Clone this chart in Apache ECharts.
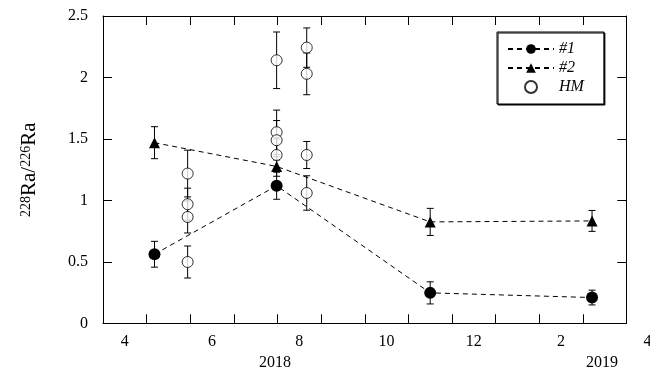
<!DOCTYPE html>
<html>
<head>
<meta charset="utf-8">
<script src="https://cdn.jsdelivr.net/npm/echarts@6/dist/echarts.min.js"></script>
<style>
  html, body { margin: 0; padding: 0; background: #fff; }
  #chart { width: 650px; height: 374px; }
</style>
</head>
<body>
<div id="chart"></div>
<script>
// x = month number counted from Jan 2018 (13 = Jan 2019)
var s1X = [4.68, 7.48, 11.0, 14.71]
var s1Y = [0.563, 1.12, 0.249, 0.211]
var s1Err = [0.105, 0.11, 0.09, 0.06]

var s2X = [4.68, 7.48, 11.0, 14.71]
var s2Y = [1.47, 1.277, 0.826, 0.834]
var s2Err = [0.13, 0.08, 0.11, 0.085]

var hmX = [5.44, 5.44, 5.44, 5.44, 7.48, 7.48, 7.48, 7.48, 8.17, 8.17, 8.17, 8.17]
var hmY = [1.219, 0.97, 0.866, 0.5, 2.14, 1.555, 1.49, 1.37, 2.243, 2.03, 1.37, 1.061]
var hmErr = [0.19, 0.13, 0.13, 0.13, 0.23, 0.18, 0.16, 0.13, 0.16, 0.17, 0.11, 0.14]

var monthTicks = [4.5, 5.5, 6.5, 7.5, 8.5, 9.5, 10.5, 11.5, 12.5, 13.5, 14.5]
var monthLabels = [4, 6, 8, 10, 12, 14]
var edgeLabel = '4' // April 2019 label, sits past the right edge of the frame
var yearPos = [7.44, 14.94]
var yearLabels = ['2018', '2019']

var font = 'Liberation Serif'

function pairs(xs, ys) {
    return xs.map(function (x, i) { return [x, ys[i]] })
}
function errData(xs, ys, es) {
    return xs.map(function (x, i) { return [x, ys[i] - es[i], ys[i] + es[i]] })
}

function renderErr(params, api) {
    var x = api.value(0)
    var top = api.coord([x, api.value(2)])
    var bot = api.coord([x, api.value(1)])
    var hw = 3.5
    var st = { stroke: '#000', lineWidth: 1 }
    return {
        type: 'group',
        children: [
            { type: 'line', shape: { x1: top[0], y1: top[1], x2: bot[0], y2: bot[1] }, style: st },
            { type: 'line', shape: { x1: top[0] - hw, y1: top[1], x2: top[0] + hw, y2: top[1] }, style: st },
            { type: 'line', shape: { x1: bot[0] - hw, y1: bot[1], x2: bot[0] + hw, y2: bot[1] }, style: st }
        ]
    }
}

function errSeries(xs, ys, es) {
    return {
        type: 'custom',
        renderItem: renderErr,
        z: 1,
        data: errData(xs, ys, es)
    }
}

function frameLine() {
    return { show: true, onZero: false, lineStyle: { color: '#000' } }
}
function tickIn(values) {
    var t = { show: true, inside: true, length: 9, lineStyle: { color: '#000', width: 1 } }
    if (values) t.customValues = values
    return t
}
function labelStyle(extra) {
    var s = { color: '#000', fontFamily: font, fontSize: 16 }
    for (var k in extra) s[k] = extra[k]
    return s
}
// helper axis pulled 9px inside the frame, ticks pointing out so they end on the frame line
function tickAxis(pos, extra) {
    var a = {
        type: 'value', position: pos, offset: -9,
        axisLine: { show: false, onZero: false },
        axisTick: { show: true, inside: false, length: 9, lineStyle: { color: '#000', width: 1 } },
        axisLabel: { show: false },
        splitLine: { show: false }
    }
    for (var k in extra) a[k] = extra[k]
    if (extra.tickValues) {
        a.axisTick.customValues = extra.tickValues
        delete a.tickValues
    }
    return a
}

var option = {
    backgroundColor: '#fff',
    animation: false,
    grid: { left: 103, right: 23.5, top: 16, bottom: 50.5, outerBoundsMode: 'none' },
    legend: {
        orient: 'vertical',
        left: 497,
        top: 32,
        padding: [9, 20, 9, 10],
        itemWidth: 46,
        itemHeight: 12,
        itemGap: 3,
        backgroundColor: '#fff',
        borderColor: '#000',
        borderWidth: 1,
        shadowColor: '#000',
        shadowOffsetX: 1,
        shadowOffsetY: 1,
        textStyle: { fontFamily: font, fontStyle: 'italic', fontSize: 16, color: '#000' },
        data: ['#1', '#2', 'HM']
    },
    xAxis: [
        {
            type: 'value', position: 'bottom', min: 3.5, max: 15.5,
            axisLine: frameLine(),
            axisTick: tickIn(monthTicks),
            splitLine: { show: false },
            axisLabel: labelStyle({
                customValues: monthLabels,
                margin: 10,
                formatter: function (v) { return String(v > 12 ? v - 12 : v) }
            }),
            name: edgeLabel,
            nameLocation: 'end',
            nameGap: 17,
            nameTextStyle: labelStyle({ verticalAlign: 'top', padding: [10, 0, 0, 0] })
        },
        {
            type: 'value', position: 'top', min: 3.5, max: 15.5,
            axisLine: frameLine(),
            axisTick: tickIn(monthTicks),
            axisLabel: { show: false },
            splitLine: { show: false }
        },
        {
            type: 'value', position: 'bottom', offset: 21, min: 3.5, max: 15.5,
            axisLine: { show: false, onZero: false },
            axisTick: { show: false },
            splitLine: { show: false },
            axisLabel: labelStyle({
                customValues: yearPos,
                margin: 10,
                formatter: function (v) { return yearLabels[yearPos.indexOf(v)] }
            })
        },
        tickAxis('bottom', { min: 3.5, max: 15.5, tickValues: monthTicks }),
        tickAxis('top', { min: 3.5, max: 15.5, tickValues: monthTicks })
    ],
    yAxis: [
        {
            type: 'value', position: 'left', min: 0, max: 2.5, interval: 0.5,
            axisLine: frameLine(),
            axisTick: tickIn(),
            splitLine: { show: false },
            axisLabel: labelStyle({ margin: 15 }),
            name: '{sup|228}{b|Ra/}{sup|226}{b|Ra}',
            nameLocation: 'middle',
            nameGap: 63,
            nameTextStyle: {
                color: '#000',
                rich: {
                    sup: { fontFamily: font, fontSize: 14, verticalAlign: 'top', color: '#000' },
                    b: { fontFamily: font, fontSize: 21, color: '#000' }
                }
            }
        },
        {
            type: 'value', position: 'right', min: 0, max: 2.5, interval: 0.5,
            axisLine: frameLine(),
            axisTick: tickIn(),
            splitLine: { show: false },
            axisLabel: { show: false }
        },
        tickAxis('left', { min: 0, max: 2.5, interval: 0.5 }),
        tickAxis('right', { min: 0, max: 2.5, interval: 0.5 })
    ],
    series: [
        errSeries(s1X, s1Y, s1Err),
        errSeries(s2X, s2Y, s2Err),
        errSeries(hmX, hmY, hmErr),
        {
            name: '#1',
            type: 'line',
            symbol: 'circle',
            symbolSize: 12,
            itemStyle: { color: '#000' },
            lineStyle: { color: '#000', width: 1, type: [5, 4] },
            data: pairs(s1X, s1Y)
        },
        {
            name: '#2',
            type: 'line',
            symbol: 'triangle',
            symbolSize: 11,
            itemStyle: { color: '#000' },
            lineStyle: { color: '#000', width: 1, type: [5, 4] },
            data: pairs(s2X, s2Y)
        },
        {
            name: 'HM',
            type: 'scatter',
            symbol: 'circle',
            symbolSize: 11,
            itemStyle: { color: '#fff', borderColor: '#000', borderWidth: 1 },
            data: pairs(hmX, hmY)
        }
    ]
}

var myChart = echarts.init(document.getElementById('chart'))
myChart.setOption(option)
</script>
</body>
</html>
